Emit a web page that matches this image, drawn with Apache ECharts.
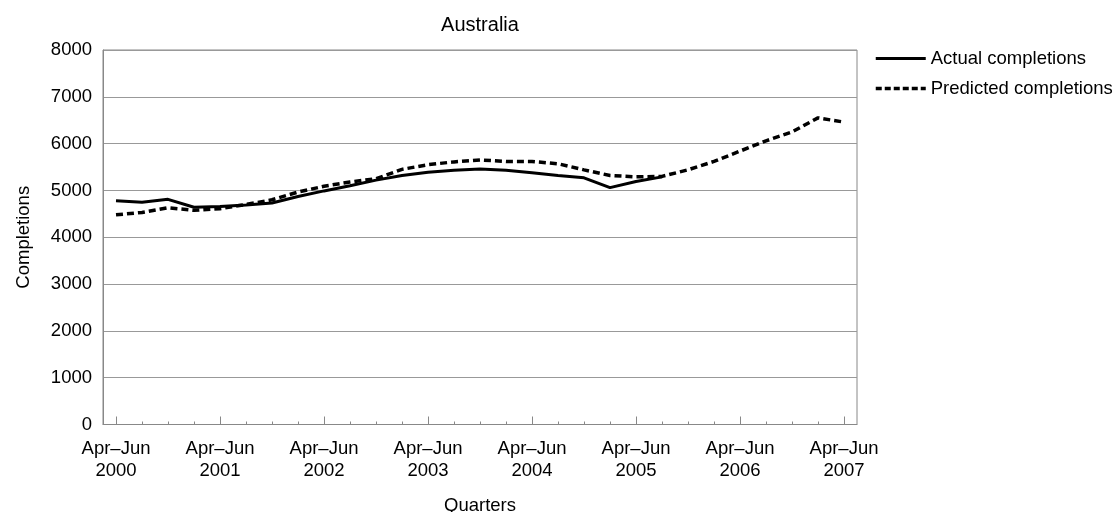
<!DOCTYPE html>
<html>
<head>
<meta charset="utf-8">
<script src="https://cdn.jsdelivr.net/npm/echarts@6/dist/echarts.min.js"></script>
<style>html,body{margin:0;padding:0;background:#fff}#c{width:1115px;height:512px}</style>
</head>
<body>
<div id="c"></div>
<script>
const quarters = [
  "Apr–Jun 2000","Jul–Sep 2000","Oct–Dec 2000","Jan–Mar 2001",
  "Apr–Jun 2001","Jul–Sep 2001","Oct–Dec 2001","Jan–Mar 2002",
  "Apr–Jun 2002","Jul–Sep 2002","Oct–Dec 2002","Jan–Mar 2003",
  "Apr–Jun 2003","Jul–Sep 2003","Oct–Dec 2003","Jan–Mar 2004",
  "Apr–Jun 2004","Jul–Sep 2004","Oct–Dec 2004","Jan–Mar 2005",
  "Apr–Jun 2005","Jul–Sep 2005","Oct–Dec 2005","Jan–Mar 2006",
  "Apr–Jun 2006","Jul–Sep 2006","Oct–Dec 2006","Jan–Mar 2007",
  "Apr–Jun 2007"
];
const actualCompletions = [
  4780, 4750, 4810, 4640, 4655, 4690, 4730, 4870, 4990, 5100, 5220,
  5320, 5390, 5430, 5460, 5430, 5380, 5320, 5270, 5060, 5190, 5290
];
const predictedCompletions = [
  4480, 4530, 4630, 4575, 4610, 4700, 4800, 4965, 5090, 5180, 5250,
  5450, 5550, 5610, 5650, 5620, 5620, 5570, 5440, 5320, 5290, 5300,
  5440, 5620, 5840, 6060, 6250, 6550, 6460
];
const yTicks = [0, 1000, 2000, 3000, 4000, 5000, 6000, 7000, 8000];

const font = "'Liberation Sans', Arial, sans-serif";
const fs = 18.5;
const chart = echarts.init(document.getElementById('c'), null, {renderer: 'canvas'});
chart.setOption({
  animation: false,
  backgroundColor: '#fff',
  textStyle: {fontFamily: font, color: '#000'},
  title: {
    text: 'Australia', left: 475, top: 10, textAlign: 'center',
    textStyle: {fontSize: 20, fontWeight: 'normal', color: '#000', fontFamily: font}
  },
  legend: {
    orient: 'vertical', left: 869, top: 44,
    itemWidth: 50, itemHeight: 20, itemGap: 11,
    itemStyle: {opacity: 0},
    textStyle: {fontSize: fs, color: '#000', fontFamily: font},
    data: [
      {name: 'Actual completions', lineStyle: {width: 3, color: '#000', type: 'solid'}},
      {name: 'Predicted completions', lineStyle: {width: 3.5, color: '#000', type: [6, 3]}}
    ]
  },
  grid: {left: 103, right: 258, top: 50, bottom: 87.5, show: true, borderColor: '#888', borderWidth: 1,
         containLabel: false, outerBoundsMode: 'none'},
  xAxis: [{
    type: 'category', data: quarters, boundaryGap: true,
    name: 'Quarters', nameLocation: 'middle', nameGap: 72,
    nameTextStyle: {fontSize: fs, color: '#000', fontFamily: font},
    axisLine: {lineStyle: {color: '#888', width: 1}},
    axisTick: {show: true, inside: true, alignWithLabel: true, interval: 3, length: 8, lineStyle: {color: '#888'}},
    axisLabel: {
      interval: 3, margin: 13, fontSize: fs, lineHeight: 22, color: '#000', fontFamily: font,
      formatter: v => v.replace(' ', '\n')
    }
  }, {
    type: 'category', data: quarters, boundaryGap: true, position: 'bottom',
    axisLine: {show: false},
    axisTick: {show: true, inside: true, alignWithLabel: true, interval: 0, length: 3, lineStyle: {color: '#888'}},
    axisLabel: {show: false}
  }],
  yAxis: {
    type: 'value', min: yTicks[0], max: yTicks[yTicks.length - 1], interval: 1000,
    name: 'Completions', nameLocation: 'middle', nameGap: 70, nameRotate: 90,
    nameTextStyle: {fontSize: fs, color: '#000', fontFamily: font},
    axisLine: {show: true, lineStyle: {color: '#888'}},
    axisTick: {show: false},
    splitLine: {lineStyle: {color: '#999', width: 1}},
    axisLabel: {fontSize: fs, color: '#000', margin: 11, fontFamily: font, formatter: v => String(v)}
  },
  series: [{
    name: 'Actual completions', type: 'line', data: actualCompletions,
    symbol: 'none', lineStyle: {color: '#000', width: 3}, itemStyle: {color: '#000'}
  }, {
    name: 'Predicted completions', type: 'line', data: predictedCompletions,
    symbol: 'none', lineStyle: {color: '#000', width: 3.5, type: [7, 4]}, itemStyle: {color: '#000'}
  }]
});
</script>
</body>
</html>
